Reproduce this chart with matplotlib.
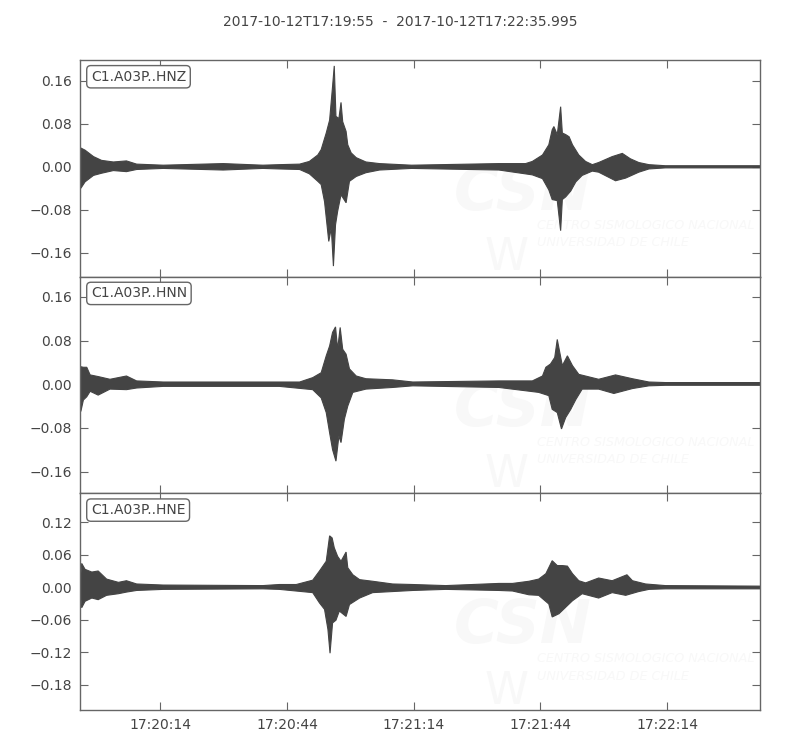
import datetime as dt
import matplotlib
matplotlib.use("Agg")
import matplotlib.pyplot as plt
from matplotlib.ticker import FixedLocator, FuncFormatter

# --- DATA (envelopes, seconds after 17:19:55) ---
START = dt.datetime(2017, 10, 12, 17, 19, 55)
TITLE = "2017-10-12T17:19:55  -  2017-10-12T17:22:35.995"
X_TICKS = [19, 49, 79, 109, 139]

HNZ_T_UP = [0.0, 0.2, 1.2, 3.2, 5.1, 7.9, 11.0, 13.4, 19.7, 33.9, 43.3, 47.2, 52.0, 54.3, 56.3, 57.1,
            58.3, 59.1, 59.8, 60.2, 60.6, 61.3, 61.8, 62.2, 63.0, 63.4, 64.2, 65.4, 67.7, 70.9,
            78.5, 99.2, 105.5, 107.1, 109.5, 111.0, 111.8, 112.2, 113.0, 113.8, 114.2, 115.0,
            115.8, 116.6, 118.1, 119.7, 121.3, 122.8, 126.0, 128.4, 130.3, 132.3, 134.7, 138.6, 161.0]
HNZ_UP = [0.0, 0.035, 0.031, 0.019, 0.012, 0.009, 0.011, 0.005, 0.003, 0.006, 0.003, 0.004, 0.005,
          0.010, 0.022, 0.032, 0.063, 0.087, 0.150, 0.188, 0.094, 0.090, 0.120, 0.084, 0.066, 0.041,
          0.026, 0.017, 0.009, 0.006, 0.003, 0.006, 0.006, 0.010, 0.022, 0.041, 0.069, 0.075, 0.060,
          0.112, 0.063, 0.060, 0.056, 0.041, 0.022, 0.010, 0.004, 0.008, 0.019, 0.025, 0.015, 0.008,
          0.004, 0.002, 0.002]
HNZ_T_LO = [0.0, 0.2, 1.2, 3.2, 5.1, 7.9, 11.0, 13.4, 19.7, 33.9, 43.3, 47.2, 52.0, 54.3, 56.3, 57.1,
            57.9, 58.9, 59.5, 60.0, 60.5, 61.0, 61.8, 63.0, 63.8, 65.4, 67.7, 70.9, 78.5, 99.2,
            107.1, 109.5, 111.0, 111.8, 113.0, 113.8, 114.2, 115.0, 116.2, 117.4, 118.9, 121.3,
            122.8, 126.8, 129.2, 132.3, 134.7, 138.6, 161.0]
HNZ_LO = [0.0, -0.040, -0.028, -0.016, -0.012, -0.007, -0.009, -0.005, -0.003, -0.006, -0.003,
          -0.004, -0.005, -0.013, -0.027, -0.033, -0.065, -0.139, -0.114, -0.185, -0.108, -0.083,
          -0.052, -0.067, -0.027, -0.018, -0.011, -0.006, -0.003, -0.006, -0.015, -0.022, -0.043,
          -0.061, -0.063, -0.119, -0.061, -0.056, -0.045, -0.028, -0.016, -0.008, -0.010, -0.026,
          -0.021, -0.010, -0.004, -0.002, -0.002]

HNN_T_UP = [0.0, 0.2, 0.8, 1.6, 2.4, 4.3, 7.1, 11.0, 13.4, 19.7, 43.3, 47.2, 52.0, 55.1, 57.1, 58.3,
            59.1, 59.8, 60.5, 61.0, 61.6, 62.2, 63.0, 63.8, 65.4, 67.7, 74.0, 78.8, 99.2, 107.1,
            109.5, 110.3, 111.4, 112.4, 113.0, 114.2, 115.4, 116.6, 118.1, 122.8, 126.8, 130.8,
            134.7, 138.6, 161.0]
HNN_UP = [0.0, 0.032, 0.031, 0.031, 0.017, 0.014, 0.009, 0.015, 0.006, 0.004, 0.004, 0.004, 0.004,
          0.012, 0.021, 0.052, 0.070, 0.095, 0.105, 0.064, 0.104, 0.064, 0.055, 0.028, 0.015, 0.010,
          0.008, 0.004, 0.006, 0.006, 0.015, 0.031, 0.037, 0.049, 0.082, 0.034, 0.052, 0.034, 0.018,
          0.009, 0.017, 0.010, 0.004, 0.003, 0.003]
HNN_T_LO = [0.0, 0.2, 0.8, 1.6, 2.4, 4.3, 7.1, 11.0, 13.4, 19.7, 43.3, 47.2, 55.1, 57.1, 58.3, 59.1,
            59.8, 60.6, 61.3, 61.8, 62.6, 63.4, 64.6, 67.7, 74.0, 78.8, 99.2, 108.6, 111.0, 111.8,
            113.0, 114.0, 115.0, 116.2, 117.4, 118.9, 122.8, 126.4, 130.8, 134.7, 138.6, 161.0]
HNN_LO = [0.0, -0.050, -0.029, -0.023, -0.013, -0.020, -0.009, -0.010, -0.007, -0.004, -0.004,
          -0.004, -0.010, -0.025, -0.052, -0.089, -0.120, -0.141, -0.095, -0.107, -0.064, -0.040,
          -0.015, -0.009, -0.006, -0.003, -0.006, -0.015, -0.021, -0.046, -0.052, -0.082, -0.061,
          -0.046, -0.028, -0.009, -0.009, -0.017, -0.008, -0.003, -0.002, -0.002]

HNE_T_UP = [0.0, 0.4, 1.2, 2.8, 4.3, 6.3, 9.1, 11.0, 13.4, 19.7, 43.3, 47.2, 51.2, 55.1, 56.7, 58.3,
            59.1, 59.7, 60.2, 61.0, 61.8, 63.0, 63.4, 64.6, 66.2, 69.3, 74.0, 78.8, 86.6, 99.2,
            102.4, 106.3, 108.6, 110.3, 111.8, 113.0, 114.2, 115.4, 116.6, 118.1, 119.7, 122.8,
            126.0, 129.5, 130.8, 133.9, 138.6, 161.0]
HNE_UP = [0.0, 0.044, 0.033, 0.028, 0.030, 0.015, 0.009, 0.012, 0.006, 0.004, 0.003, 0.005, 0.005,
          0.013, 0.030, 0.048, 0.095, 0.091, 0.073, 0.057, 0.048, 0.065, 0.036, 0.023, 0.014, 0.011,
          0.006, 0.005, 0.003, 0.007, 0.007, 0.011, 0.015, 0.025, 0.049, 0.040, 0.040, 0.039, 0.025,
          0.012, 0.008, 0.017, 0.012, 0.023, 0.012, 0.006, 0.003, 0.002]
HNE_T_LO = [0.0, 0.4, 1.2, 2.8, 4.3, 6.3, 9.1, 11.0, 13.4, 19.7, 43.3, 47.2, 55.1, 56.7, 57.9, 58.7,
            59.2, 59.8, 60.6, 61.4, 63.0, 63.8, 66.2, 69.3, 78.8, 86.6, 99.2, 102.4, 106.3, 108.6,
            111.0, 111.8, 113.4, 115.0, 116.6, 118.9, 122.8, 126.0, 129.2, 132.3, 134.7, 138.6, 161.0]
HNE_LO = [0.0, -0.038, -0.026, -0.020, -0.023, -0.015, -0.012, -0.009, -0.006, -0.004, -0.003,
          -0.004, -0.010, -0.029, -0.041, -0.078, -0.122, -0.066, -0.061, -0.044, -0.054, -0.032,
          -0.020, -0.010, -0.006, -0.004, -0.006, -0.007, -0.014, -0.015, -0.031, -0.055, -0.049,
          -0.037, -0.025, -0.012, -0.020, -0.010, -0.015, -0.008, -0.004, -0.003, -0.003]

CHANNELS = ["C1.A03P..HNZ", "C1.A03P..HNN", "C1.A03P..HNE"]
Y_TICKS = [[-0.16, -0.08, 0.0, 0.08, 0.16],
           [-0.16, -0.08, 0.0, 0.08, 0.16],
           [-0.18, -0.12, -0.06, 0.0, 0.06, 0.12]]
Y_LIMS = [(-0.2047, 0.199), (-0.200, 0.197), (-0.227, 0.1735)]

TRACES = [(HNZ_T_UP, HNZ_UP, HNZ_T_LO, HNZ_LO),
          (HNN_T_UP, HNN_UP, HNN_T_LO, HNN_LO),
          (HNE_T_UP, HNE_UP, HNE_T_LO, HNE_LO)]

WAVE_COLOR = "#444444"
TEXT_COLOR = "#444444"
FRAME_COLOR = "#666666"
MARK_COLOR = "#f8f8f8"


def time_label(sec, pos):
    return (START + dt.timedelta(seconds=float(sec))).strftime("%H:%M:%S")


fig, axes = plt.subplots(3, 1, figsize=(8, 7.5), dpi=100, sharex=True)
fig.subplots_adjust(left=0.1, right=0.95, top=0.92, bottom=0.0533, hspace=0)
fig.suptitle(TITLE, y=0.98, fontsize=10, color=TEXT_COLOR)

for ax, (t_up, up, t_lo, lo), name, yt, yl in zip(axes, TRACES, CHANNELS, Y_TICKS, Y_LIMS):
    # very faint watermark
    ax.text(0.55, 0.31, "CSN", transform=ax.transAxes, fontsize=44, fontweight="bold",
            fontstyle="italic", color=MARK_COLOR, zorder=0)
    ax.text(0.595, 0.03, "W", transform=ax.transAxes, fontsize=32,
            color=MARK_COLOR, zorder=0)
    ax.text(0.672, 0.22, "CENTRO SISMOLOGICO NACIONAL", transform=ax.transAxes, fontsize=9.2,
            fontstyle="italic", color=MARK_COLOR, zorder=0)
    ax.text(0.672, 0.14, "UNIVERSIDAD DE CHILE", transform=ax.transAxes, fontsize=9.2,
            fontstyle="italic", color=MARK_COLOR, zorder=0)

    poly_t = list(t_up) + list(reversed(t_lo))
    poly_a = list(up) + list(reversed(lo))
    ax.fill(poly_t, poly_a, color=WAVE_COLOR, lw=0.8, zorder=2)

    ax.set_xlim(0, 161)
    ax.set_ylim(*yl)
    ax.yaxis.set_major_locator(FixedLocator(yt))
    ax.yaxis.set_major_formatter(FuncFormatter(lambda v, p: f"{v:.2f}".replace("-", "\u2212")))
    ax.xaxis.set_major_locator(FixedLocator(X_TICKS))
    ax.xaxis.set_major_formatter(FuncFormatter(time_label))
    ax.tick_params(direction="in", top=True, right=True, length=6, width=0.8,
                   colors=FRAME_COLOR, labelcolor=TEXT_COLOR, labelsize=10, pad=6)
    for sp in ax.spines.values():
        sp.set_color(FRAME_COLOR)
        sp.set_linewidth(1.0)

    ax.text(0.016, 0.955, name, transform=ax.transAxes, va="top", ha="left", fontsize=10,
            color=TEXT_COLOR, zorder=5,
            bbox=dict(boxstyle="round,pad=0.3", fc="white", ec=FRAME_COLOR, lw=1.0))

fig.savefig("out.png", dpi=100)
